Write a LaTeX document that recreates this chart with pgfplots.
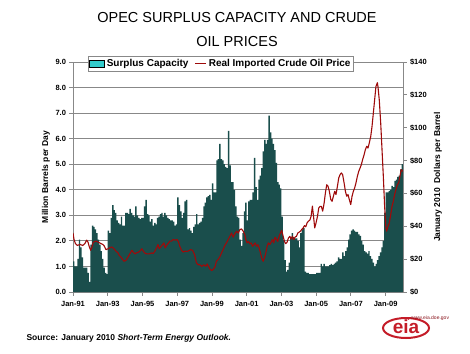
\documentclass[border=0pt]{standalone}
\usepackage{pgfplots}
\pgfplotsset{compat=1.18}
\usepackage{fontspec}
\setmainfont{Liberation Sans}
\definecolor{barc}{RGB}{26,78,76}
\definecolor{legteal}{RGB}{51,204,204}
\definecolor{pricec}{RGB}{158,10,10}
\definecolor{gridc}{RGB}{136,136,136}
\definecolor{eiared}{RGB}{196,28,40}

\pgfplotstableread{
m cap
0 1.2
1 1.0
2 1.0
3 1.3
4 2.05
5 1.75
6 1.35
7 0.95
8 0.95
9 0.95
10 0.75
11 0.4
12 1.85
13 2.6
14 2.55
15 2.45
16 2.3
17 2.05
18 1.85
19 1.6
20 1.3
21 0.95
22 0.75
23 0.7
24 2.4
25 2.3
26 2.9
27 3.4
28 3.2
29 3.1
30 2.8
31 2.7
32 2.65
33 2.95
34 2.6
35 2.6
36 3.1
37 3.1
38 3.05
39 3.25
40 3.1
41 3.0
42 2.95
43 3.35
44 3.0
45 2.9
46 2.85
47 2.9
48 2.9
49 3.35
50 3.6
51 3.05
52 3.0
53 2.75
54 2.85
55 2.6
56 2.7
57 2.65
58 2.9
59 2.95
60 3.05
61 3.1
62 2.95
63 3.1
64 3.0
65 2.9
66 2.85
67 2.8
68 2.8
69 2.75
70 2.6
71 2.65
72 3.7
73 3.4
74 3.15
75 2.9
76 3.1
77 3.55
78 3.6
79 2.45
80 2.5
81 2.4
82 2.3
83 2.55
84 2.65
85 3.05
86 2.65
87 2.7
88 2.75
89 2.9
90 3.35
91 3.5
92 3.7
93 3.75
94 3.8
95 3.6
96 4.25
97 3.9
98 3.9
99 5.15
100 5.2
101 5.8
102 5.2
103 5.15
104 5.0
105 4.9
106 4.85
107 6.3
108 4.95
109 4.3
110 4.3
111 4.0
112 3.35
113 2.95
114 2.9
115 2.05
116 1.8
117 2.3
118 3.15
119 3.5
120 2.8
121 3.55
122 3.6
123 3.6
124 3.9
125 5.25
126 4.1
127 3.6
128 4.4
129 4.55
130 4.85
131 5.5
132 5.95
133 5.8
134 5.95
135 6.9
136 6.25
137 6.0
138 5.8
139 5.55
140 5.05
141 4.3
142 4.2
143 4.05
144 2.95
145 2.05
146 1.25
147 0.8
148 0.87
149 1.15
150 2.15
151 2.3
152 2.15
153 2.1
154 2.1
155 2.0
156 1.75
157 2.3
158 2.45
159 2.5
160 0.8
161 0.75
162 0.75
163 0.7
164 0.7
165 0.7
166 0.7
167 0.7
168 0.75
169 0.75
170 0.75
171 1.1
172 1.0
173 1.1
174 1.0
175 1.0
176 1.0
177 1.05
178 1.1
179 1.05
180 1.1
181 1.15
182 1.2
183 1.35
184 1.3
185 1.3
186 1.55
187 1.4
188 1.6
189 1.75
190 2.05
191 2.25
192 2.4
193 2.45
194 2.4
195 2.35
196 2.35
197 2.25
198 2.2
199 2.0
200 1.85
201 1.6
202 1.55
203 1.5
204 1.6
205 1.4
206 1.3
207 1.15
208 1.0
209 1.1
210 1.25
211 1.4
212 1.55
213 1.75
214 2.0
215 3.1
216 3.9
217 3.9
218 3.95
219 4.0
220 4.15
221 4.1
222 4.35
223 4.4
224 4.5
225 4.55
226 4.8
227 5.0
228 5.0
}\captable

\begin{document}
\begin{tikzpicture}[x=1pt,y=1pt]
\path[use as bounding box] (0,0) rectangle (470,353);

\node[font=\fontsize{14.5}{24}\selectfont, align=center] at (237,323) {OPEC SURPLUS CAPACITY AND CRUDE\\OIL PRICES};

\begin{axis}[at={(73pt,61pt)}, anchor=south west, scale only axis,
  width=330pt, height=230pt,
  xmin=0, xmax=228, ymin=0, ymax=9,
  axis x line*=bottom, axis y line*=left,
  xtick={0,24,...,216},
  xticklabels={Jan-91,Jan-93,Jan-95,Jan-97,Jan-99,Jan-01,Jan-03,Jan-05,Jan-07,Jan-09},
  ytick={0,1,...,9},
  yticklabel style={/pgf/number format/.cd, fixed, fixed zerofill, precision=1},
  /pgf/number format/assume math mode=true,
  ticklabel style={font=\bfseries\fontsize{7.5}{9}\selectfont},
  xticklabel style={yshift=-2pt},
  ymajorgrids, grid style={gridc, line width=0.9pt},
  axis line style={gridc, line width=0.9pt},
  tick style={gridc, line width=0.9pt}, tick align=outside, major tick length=3.5pt,
  ylabel={Million Barrels per Day},
  ylabel style={at={(axis description cs:-0.082,0.5)}, anchor=center, font=\bfseries\fontsize{8.5}{10}\selectfont},
]
\addplot[fill=barc, draw=none, const plot mark left] table[x=m, y=cap] {\captable} \closedcycle;
\end{axis}

\begin{axis}[at={(73pt,61pt)}, anchor=south west, scale only axis,
  width=330pt, height=230pt,
  xmin=0, xmax=228, ymin=0, ymax=140,
  axis x line=none, axis y line*=right,
  ytick={0,20,...,140},
  yticklabels={\$0,\$20,\$40,\$60,\$80,\$100,\$120,\$140},
  ticklabel style={font=\bfseries\fontsize{7.5}{9}\selectfont},
  axis line style={gridc, line width=0.9pt},
  tick style={gridc, line width=0.9pt}, tick align=outside, major tick length=3.5pt,
  ylabel={January 2010\ \ Dollars per Barrel},
  ylabel style={at={(axis description cs:1.106,0.5)}, anchor=center, font=\bfseries\fontsize{8.5}{10}\selectfont},
  legend columns=2,
  legend style={at={(rel axis cs:0.045,1.026)}, anchor=north west, draw=gridc, line width=0.9pt, fill=white,
    font=\bfseries\fontsize{10}{11}\selectfont, inner sep=1pt,
    /tikz/every even column/.append style={column sep=4pt}},
  legend cell align=left,
]
\addlegendimage{legend image code/.code={\draw[fill=legteal, draw=black, line width=0.5pt] (0pt,-3.5pt) rectangle (15pt,3.5pt);}}
\addlegendentry{Surplus Capacity}
\addlegendimage{legend image code/.code={\draw[pricec, line width=1.3pt] (0pt,0pt) -- (11pt,0pt);}}
\addlegendentry{Real Imported Crude Oil Price}
\addplot[pricec, line width=1.1pt, line join=round, forget plot] coordinates {
(0,36) (0.7,32) (1.6,29.6) (3,28.3) (4.8,29) (6.7,28.3) (8.3,29.6) (9.4,31.6) (10.4,30.3) (11.3,27.4) (12.2,25.4) (13.1,27.4) (14,30.3) (15.9,31) (17.5,30.3) (19.1,29.6) (20.5,29) (21.6,28) (22.8,25.8) (24.2,26.3) (25.5,27) (26.9,27.4) (28.3,26.3) (29.7,24.9) (31.1,23.8) (32,22.2) (33.1,21.3) (34.3,19.8) (35.2,18.7) (36.6,19.3) (38,21.3) (39.3,23.3) (40.7,25.4) (41.6,24.3) (42.8,23.2) (43.9,23.8) (45.3,24.3) (46.2,24.9) (47.6,26.3) (48.5,24.9) (49.9,23.5) (51.3,23.2) (52.7,23.2) (54.3,23.8) (55.4,23.5) (56.6,24.9) (57.7,26.8) (58.7,28.9) (59.6,26.3) (60.5,27.4) (61.9,28.9) (62.8,29.9) (63.7,26.8) (64.6,28.3) (65.8,29.6) (66.9,31) (68.1,31) (69.2,31.9) (70.6,31.6) (72,31.9) (72.9,30.3) (73.8,27.8) (75,25.4) (76.1,24.3) (77.3,24.9) (78.4,24.7) (79.6,24.9) (81.2,25.8) (82.6,25.4) (84,22.7) (85.3,17.7) (86.5,16.6) (87.6,16.6) (89,15.6) (90.4,16.6) (91.8,15.6) (92.7,17.1) (93.6,15.6) (94.5,14) (95.9,13.1) (96.8,13.7) (98,15.1) (99.1,18.7) (100.3,19.8) (101.4,21.3) (102.6,23.8) (103.7,25.8) (104.9,28.3) (106,29.9) (107.2,31.9) (108.4,33.9) (109.5,35.9) (110.7,33.4) (111.8,35.5) (113,37) (114.1,35.9) (115.3,38) (116.4,38.4) (117.6,37) (118.7,35) (119.4,31.9) (120.3,29.9) (121.2,30.8) (122.2,29.4) (123.1,29.9) (124,27.8) (124.9,28.8) (125.8,29.9) (126.8,27.8) (127.7,28.8) (128.6,26.8) (129.5,23.8) (130.4,20.7) (131.4,18.7) (132.3,20.7) (133.2,23.8) (134.1,27.8) (135,29.9) (136,28.8) (136.9,30.3) (137.8,31.9) (138.7,29.9) (139.6,33.4) (140.6,31.9) (141.5,30.8) (142.4,33.9) (143.3,35.9) (144.2,37.5) (145.2,33.9) (146.1,30.8) (147,29.4) (147.9,30.3) (148.8,32.8) (149.8,33.9) (150.7,32.2) (151.6,33.9) (152.5,31.9) (153.4,33.4) (154.4,33.9) (155.3,35.9) (156.2,36.4) (157.1,37) (158,38) (159,38.9) (159.9,40.4) (160.8,39.7) (161.7,42) (162.6,43.1) (163.6,43.7) (164.5,46) (165.4,52.3) (166.3,45) (167,39) (167.9,42) (168.9,46) (169.8,51.2) (170.7,52.1) (171.6,52.1) (172.5,49.2) (173.5,54.1) (174.4,60.4) (175.3,65.3) (176.2,64.4) (177.1,61.3) (178.1,56.3) (179,55.2) (179.9,58.3) (180.8,61.3) (181.7,59.3) (182.7,64.4) (183.6,69.4) (184.5,71.4) (185.4,72.5) (186.3,71.4) (187.3,66.4) (188.2,61.3) (189.1,58.3) (190,59.3) (190.9,56.3) (191.9,53.2) (192.8,58.3) (193.7,61.3) (194.6,63.3) (195.5,66.4) (196.5,70.5) (197.4,73.4) (198.3,75.4) (199.2,77.5) (200.1,80.6) (201.1,83.5) (202,86.6) (202.9,88.7) (203.8,87.6) (204.7,90.7) (205.7,94.7) (206.6,100.8) (207.5,108.9) (208.4,117) (209.3,125.1) (210.3,127.4) (210.7,125) (211.6,117) (212.6,102.8) (213.5,86.6) (214.4,70.5) (215.3,52.1) (216.2,39) (216.7,37) (217.6,40) (218.5,42) (219.5,47.1) (220.4,52.1) (221.3,55.2) (222.2,59.3) (223.1,62.2) (224.1,65.3) (225,66.4) (225.9,70.5) (226.8,74.5) (227.7,73.4)
};
\end{axis}

\node[anchor=west, font=\bfseries\fontsize{8.5}{10}\selectfont] at (23,15) {Source: January 2010 \textit{Short-Term Energy Outlook.}};

\draw[eiared, line width=2pt] (406,25) ellipse (23pt and 10pt);
\node[text=eiared, font=\bfseries\fontsize{19}{19}\selectfont] at (406,26) {eia};
\fill[eiared] (408.5,34.5) circle (1.3pt);
\node[anchor=west, text=eiared!70!black, font=\fontsize{5}{6}\selectfont, inner sep=0pt] at (411,34.5) {www.eia.doe.gov};
\end{tikzpicture}
\end{document}
